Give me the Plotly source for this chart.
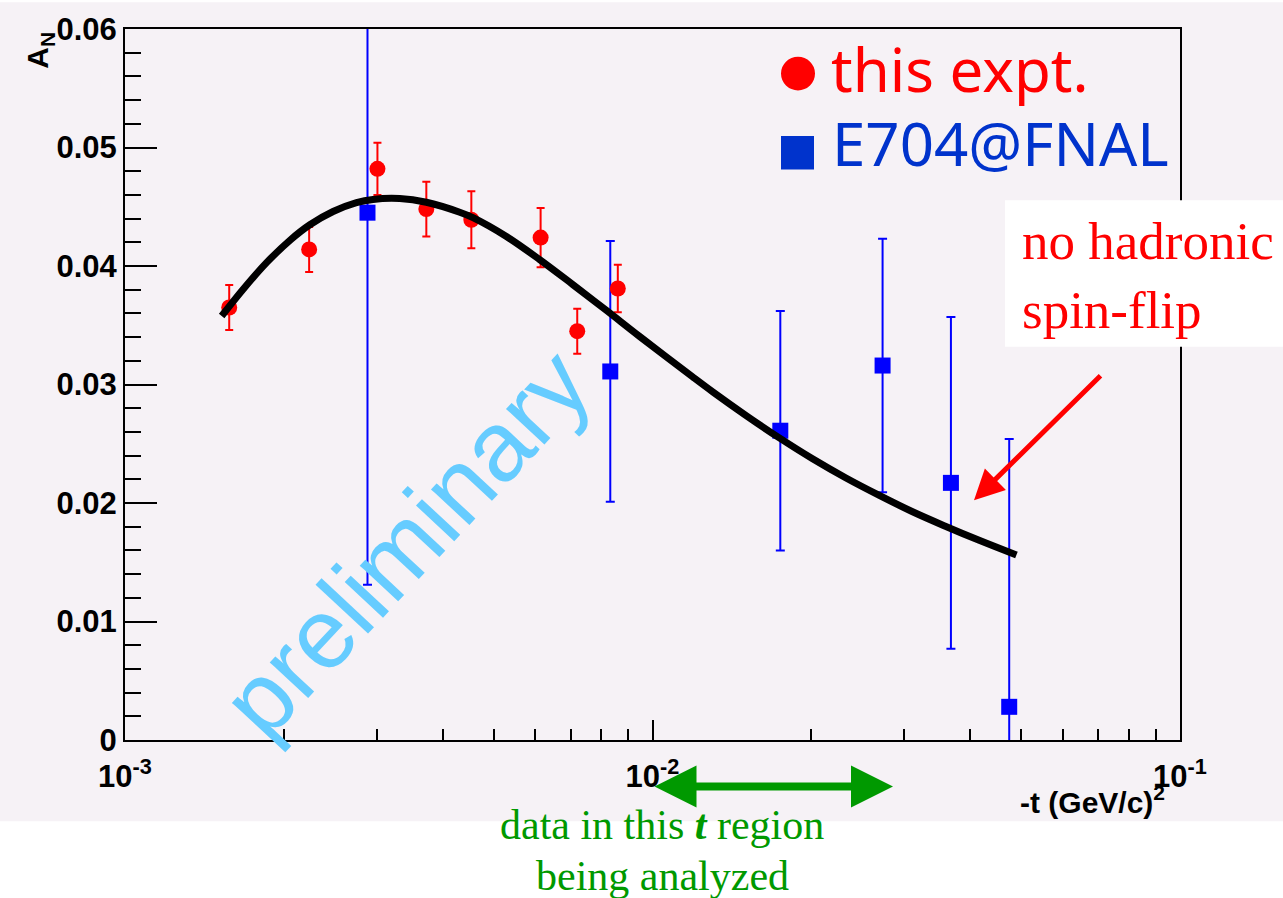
import plotly.graph_objects as go

# ---------------- data ----------------
red_x = [0.001576, 0.002234, 0.003010, 0.003726, 0.004535, 0.006136, 0.007200, 0.008595]
red_y = [0.0365, 0.0414, 0.0482, 0.0448, 0.0439, 0.0424, 0.0345, 0.0381]
red_err = [0.0019, 0.0019, 0.0022, 0.0023, 0.0024, 0.0025, 0.0019, 0.0020]

blue_x = [0.002882, 0.008317, 0.01747, 0.02730, 0.03679, 0.04745]
blue_y = [0.0445, 0.0311, 0.0261, 0.0316, 0.0217, 0.0028]
blue_err = [0.0314, 0.0110, 0.0101, 0.0107, 0.0140, 0.0226]

curve_x = [0.001525, 0.001675, 0.001855, 0.002054, 0.002241, 0.002480, 0.002747,
           0.002953, 0.003318, 0.003726, 0.004310, 0.004567, 0.005285, 0.006110,
           0.007063, 0.008173, 0.009449, 0.011925, 0.013007, 0.015049, 0.017396,
           0.020111, 0.023273, 0.026915, 0.031117, 0.035993, 0.041614, 0.048969]
curve_y = [0.03578, 0.03804, 0.04028, 0.04217, 0.04348, 0.04460, 0.04535,
           0.04562, 0.04569, 0.04538, 0.04454, 0.04408, 0.04249, 0.04054,
           0.03843, 0.03626, 0.03406, 0.03063, 0.02938, 0.02738, 0.02549,
           0.02373, 0.02211, 0.02064, 0.01926, 0.01802, 0.01685, 0.01561]

x_tickvals = [0.001, 0.01, 0.1]
x_ticktext = ["10<sup>-3</sup>", "10<sup>-2</sup>", "10<sup>-1</sup>"]
x_minor = [2e-3, 3e-3, 4e-3, 5e-3, 6e-3, 7e-3, 8e-3, 9e-3,
           2e-2, 3e-2, 4e-2, 5e-2, 6e-2, 7e-2, 8e-2, 9e-2]
y_tickvals = [0, 0.01, 0.02, 0.03, 0.04, 0.05, 0.06]
y_ticktext = ["0", "0.01", "0.02", "0.03", "0.04", "0.05", "0.06"]

legend_labels = ["this expt.", "E704@FNAL"]
note_text = "no hadronic<br>spin-flip"
region_lines = ["data in this <b><i>t</i></b> region", "being analyzed"]

# ---------------- layout helpers (pixel -> paper) ----------------
W, H = 1283, 898
L, R, T, B = 125, 103, 22, 158
PW = W - L - R
PH = H - T - B


def px(x):
    return (x - L) / PW


def py(y):
    return (H - B - y) / PH


BG = "#F6F2F6"
RED = "#FF0000"
BLUE = "#0000FF"
LEG_BLUE = "#0033CC"
GREEN = "#009900"

fig = go.Figure()

fig.add_trace(go.Scatter(
    x=blue_x, y=blue_y, mode="markers",
    marker=dict(symbol="square", size=16, color=BLUE),
    error_y=dict(type="data", array=blue_err, color=BLUE, thickness=2, width=4.5),
    showlegend=False))

fig.add_trace(go.Scatter(
    x=red_x, y=red_y, mode="markers",
    marker=dict(symbol="circle", size=16, color=RED),
    error_y=dict(type="data", array=red_err, color=RED, thickness=2, width=4),
    showlegend=False))

fig.add_trace(go.Scatter(
    x=curve_x, y=curve_y, mode="lines",
    line=dict(color="black", width=7, shape="spline", smoothing=1.0),
    showlegend=False))

axis_font = dict(family="Liberation Sans, Arial", size=31, color="black", weight="bold")

fig.update_xaxes(
    type="log", range=[-3, -1],
    tickvals=x_tickvals, ticktext=x_ticktext,
    ticks="inside", ticklen=20, tickwidth=2, tickcolor="black",
    showline=True, linecolor="black", linewidth=2, mirror=True,
    showgrid=False, zeroline=False, tickfont=axis_font, ticklabelstandoff=8,
    minor=dict(tickvals=x_minor, ticks="inside", ticklen=11, tickwidth=2,
               tickcolor="black", showgrid=False))

fig.update_yaxes(
    range=[0, 0.06], tickvals=y_tickvals, ticktext=y_ticktext,
    ticks="inside", ticklen=32, tickwidth=2, tickcolor="black",
    showline=True, linecolor="black", linewidth=2, mirror=True,
    showgrid=False, zeroline=False, tickfont=axis_font,
    minor=dict(dtick=0.002, tick0=0, ticks="inside", ticklen=16, tickwidth=2,
               tickcolor="black", showgrid=False))

shapes = [
    # grey canvas (everything above the white strip at the bottom)
    dict(type="rect", xref="paper", yref="paper", x0=px(-5), x1=px(W + 5),
         y0=py(822), y1=py(-5), fillcolor=BG, line=dict(width=0), layer="below"),
    # white box behind the note
    dict(type="rect", xref="paper", yref="paper", x0=px(1005), x1=px(W + 5),
         y0=py(343), y1=py(195), fillcolor="white", line=dict(width=0), layer="above"),
    # legend symbols
    dict(type="circle", xref="paper", yref="paper", x0=px(781), x1=px(815),
         y0=py(84), y1=py(50), fillcolor=RED, line=dict(width=0), layer="above"),
    dict(type="rect", xref="paper", yref="paper", x0=px(781), x1=px(814),
         y0=py(164), y1=py(130), fillcolor=LEG_BLUE, line=dict(width=0), layer="above"),
]

annotations = [
    # axis titles
    dict(text="<b>-t (GeV/c)<sup>2</sup></b>", xref="paper", yref="paper",
         x=px(1167), y=py(801), xanchor="right", yanchor="middle", showarrow=False,
         font=dict(family="Liberation Sans, Arial", size=30, color="black")),
    dict(text="<b>A<sub>N</sub></b>", xref="paper", yref="paper",
         x=px(40), y=py(44), xanchor="center", yanchor="middle", showarrow=False,
         textangle=-90, font=dict(family="Liberation Sans, Arial", size=30, color="black")),
    # legend text
    dict(text=legend_labels[0], xref="paper", yref="paper", x=px(829), y=py(62),
         xanchor="left", yanchor="middle", showarrow=False,
         font=dict(family="Noto Sans, DejaVu Sans", size=60, color=RED)),
    dict(text=legend_labels[1], xref="paper", yref="paper", x=px(830), y=py(137),
         xanchor="left", yanchor="middle", showarrow=False,
         font=dict(family="Noto Sans, DejaVu Sans", size=60, color=LEG_BLUE)),
    # watermark
    dict(text="preliminary", xref="paper", yref="paper", x=px(406), y=py(541),
         xanchor="center", yanchor="middle", showarrow=False, textangle=-47,
         font=dict(family="Liberation Sans, Arial", size=99, color="#66CCFF")),
    # note
    dict(text=note_text, xref="paper", yref="paper", x=px(1020), y=py(271),
         xanchor="left", yanchor="middle", align="left", showarrow=False,
         font=dict(family="Liberation Serif, Times New Roman", size=53, color=RED)),
    # red arrow
    dict(text="", xref="paper", yref="paper", x=px(974), y=py(498),
         ax=128, ay=-126, axref="pixel", ayref="pixel", showarrow=True,
         arrowhead=2, arrowsize=1.2, arrowwidth=5, arrowcolor=RED, standoff=0),
    # green double arrow
    dict(text="", xref="paper", yref="paper", x=px(893), y=py(787),
         ax=-240, ay=0, axref="pixel", ayref="pixel", showarrow=True,
         arrowhead=2, startarrowhead=2, arrowside="end+start",
         arrowsize=1.05, startarrowsize=1.05, arrowwidth=8, arrowcolor=GREEN,
         standoff=0, startstandoff=0),
    # region text
    dict(text=region_lines[0], xref="paper", yref="paper", x=px(662), y=py(826),
         xanchor="center", yanchor="middle", showarrow=False,
         font=dict(family="Liberation Serif, Times New Roman", size=42, color=GREEN)),
    dict(text=region_lines[1], xref="paper", yref="paper", x=px(662), y=py(877),
         xanchor="center", yanchor="middle", showarrow=False,
         font=dict(family="Liberation Serif, Times New Roman", size=42, color=GREEN)),
]

fig.update_layout(
    width=W, height=H, autosize=False,
    margin=dict(l=L, r=R, t=T, b=B, pad=0),
    paper_bgcolor="white", plot_bgcolor=BG,
    shapes=shapes, annotations=annotations,
    showlegend=False,
)

# pin the figure to the top-left corner of the page (no body margin)
post = ("document.body.style.margin='0';"
        "document.body.style.overflow='hidden';"
        "var d=document.getElementById('{plot_id}');"
        "d.style.position='absolute';d.style.left='0px';d.style.top='0px';")

fig.write_html("out.html", post_script=post, config={"displayModeBar": False})
